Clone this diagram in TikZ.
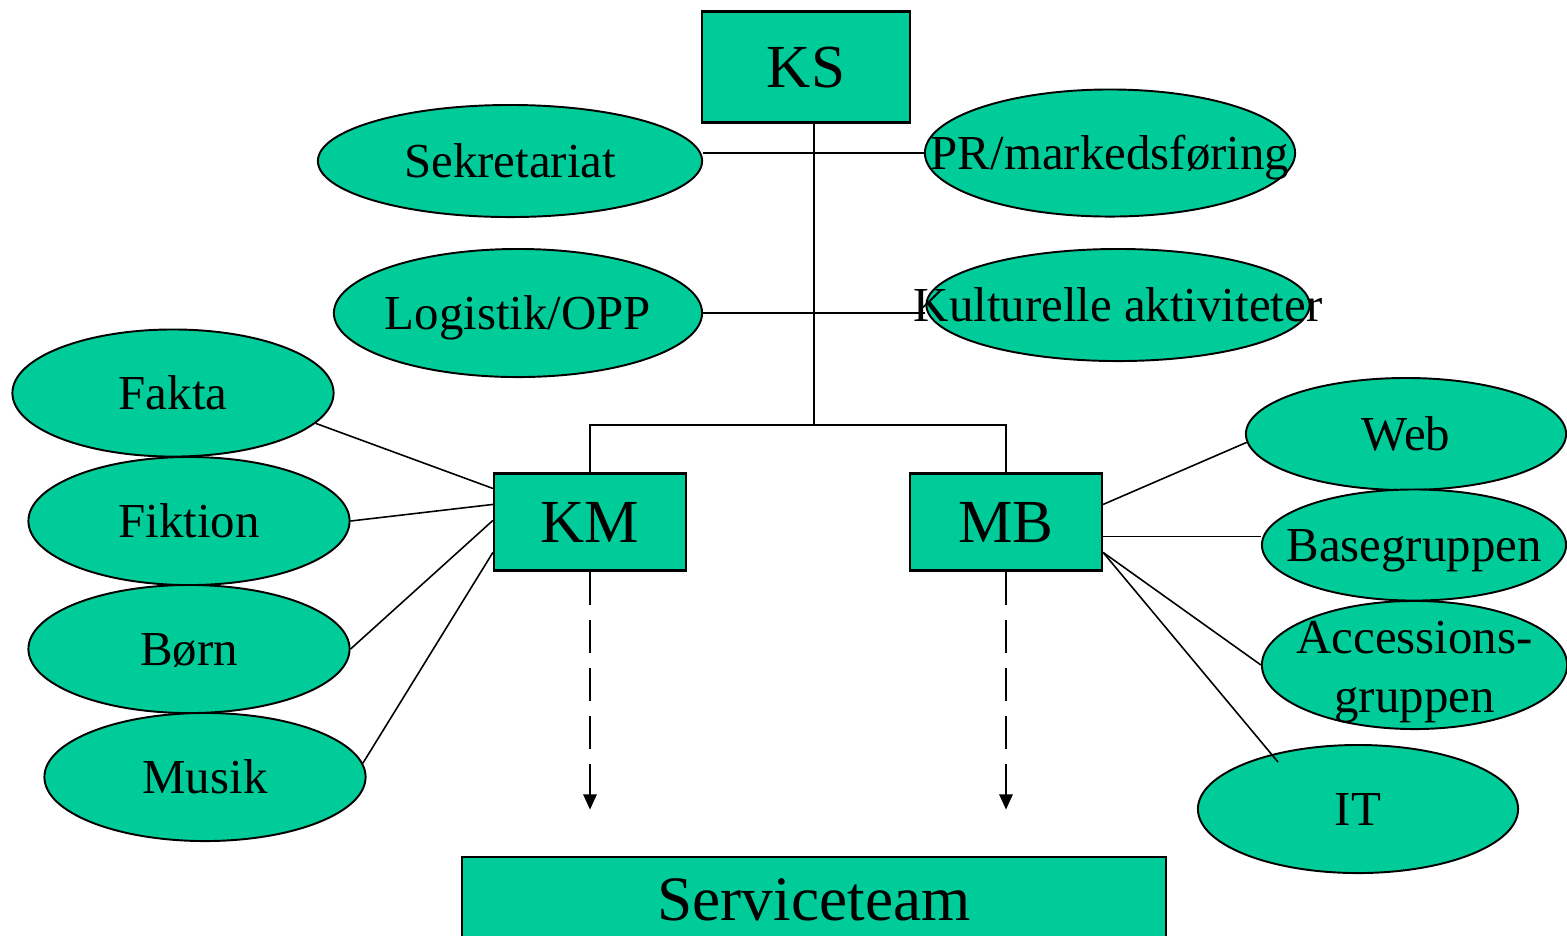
\documentclass[tikz,border=0pt]{standalone}
\usepackage{fontspec}
\setmainfont{Liberation Serif}
\usetikzlibrary{shapes.geometric,arrows.meta,calc}
\definecolor{teal}{RGB}{0,204,153}
\tikzset{
  oval/.style={ellipse, draw=black, fill=teal, line width=0.55pt, inner sep=0pt},
  boxnode/.style={rectangle, draw=black, fill=teal, line width=0.6pt, inner sep=0pt,
    font=\fontsize{17.4}{20}\selectfont, text height=0.40cm, text depth=0pt},
  lab/.style={font=\fontsize{13.9}{16.8}\selectfont, text height=0.32cm, text depth=0pt, inner sep=0pt},
  conn/.style={line width=0.45pt},
  dasharrow/.style={line width=0.45pt, dash pattern=on 9.4pt off 4.3pt,
    -{Triangle[length=4.3pt,width=3.8pt]}}
}
\begin{document}
\begin{tikzpicture}[x=0.01cm, y=-0.01cm]
\useasboundingbox (0,0) rectangle (1567,935);
\clip (0,0) rectangle (1567,935);

% boxes
\node[boxnode, minimum width=2.08cm, minimum height=1.11cm] (ks) at (806,67) {KS};
\node[boxnode, minimum width=1.92cm, minimum height=0.97cm] (km) at (590,522) {KM};
\node[boxnode, minimum width=1.92cm, minimum height=0.97cm] (mb) at (1006,522) {MB};
\node[boxnode, minimum width=7.04cm, minimum height=0.85cm, font=\fontsize{18}{21}\selectfont, text height=0.42cm] (st) at (814,899.5) {Serviceteam};

% ellipses
\node[oval, minimum width=3.84cm, minimum height=1.12cm, label={[lab]center:Sekretariat}] (sek) at (510,161) {};
\node[oval, minimum width=3.70cm, minimum height=1.27cm, label={[lab]center:PR/markedsføring}] (pr) at (1110,153) {};
\node[oval, minimum width=3.68cm, minimum height=1.28cm, label={[lab]center:Logistik/OPP}] (log) at (518,313) {};
\node[oval, minimum width=3.83cm, minimum height=1.12cm, label={[lab]center:Kulturelle aktiviteter}] (kul) at (1118,305) {};

\node[oval, minimum width=3.21cm, minimum height=1.27cm, label={[lab]center:Fakta}] (fakta) at (173,393) {};
\node[oval, minimum width=3.21cm, minimum height=1.28cm, label={[lab]center:Fiktion}] (fik) at (189,521) {};
\node[oval, minimum width=3.21cm, minimum height=1.28cm, label={[lab]center:Børn}] (born) at (189,649) {};
\node[oval, minimum width=3.21cm, minimum height=1.28cm, label={[lab]center:Musik}] (musik) at (205,777) {};

\node[oval, minimum width=3.20cm, minimum height=1.12cm, label={[lab]center:Web}] (web) at (1406,434) {};
\node[oval, minimum width=3.04cm, minimum height=1.11cm, label={[lab]center:Basegruppen}] (base) at (1414,545) {};
\node[oval, minimum width=3.05cm, minimum height=1.28cm,
  label={[font=\fontsize{13.9}{16.8}\selectfont, align=center, text depth=0pt, inner sep=0pt, yshift=-0.02cm]center:{Accessions-\\gruppen}}] (acc) at (1414.5,665) {};
\node[oval, minimum width=3.20cm, minimum height=1.28cm, label={[lab]center:IT}] (it) at (1358,809) {};

% tree from KS
\coordinate (trunk) at ($(ks.south)+(8,0)$);
\coordinate (junc) at (814,425);
\draw[conn] (trunk) -- (junc);
\draw[conn] (km.north) |- (junc) -| (mb.north);
\draw[conn] (pr.west) -- (pr.west -| sek.east);
\draw[conn] (log.east) -- (log.east -| kul.west);

% KM branches
\draw[conn] (fakta.-12.4) -- ($(km.north west)+(0,16)$);
\draw[conn] (fik.east) -- ($(km.north west)+(0,32)$);
\draw[conn] (born.east) -- ($(km.north west)+(0,48)$);
\draw[conn] (musik.5) -- ($(km.north west)+(0,80)$);

% MB branches
\coordinate (mbB) at ($(mb.north east)+(0,64)$);
\draw[conn] ($(mb.north east)+(0,32)$) -- (web.183);
\draw[conn] (mbB) -- (mbB -| base.west);
\draw[conn] ($(mb.north east)+(0,80)$) -- (acc.west);
\draw[conn] ($(mb.north east)+(0,80)$) -- ($(it.center)+(-80,-47)$);

% dashed arrows
\coordinate (kmT) at ($(km.south)+(0,238)$);
\coordinate (mbT) at ($(mb.south)+(0,238)$);
\draw[dasharrow] (km.south) -- (kmT);
\draw[dasharrow] (mb.south) -- (mbT);
\end{tikzpicture}
\end{document}
